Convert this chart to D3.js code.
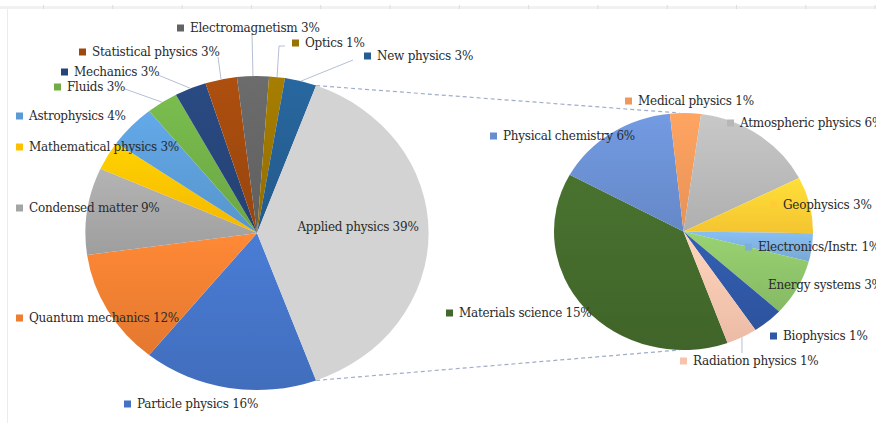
<!DOCTYPE html>
<html>
<head>
<meta charset="utf-8">
<script src="https://cdn.jsdelivr.net/npm/d3@7"></script>
<style>
  body { margin: 0; background: #fff; }
  svg { display: block; }
  .lbl { font-family: "DejaVu Serif", serif; font-size: 12px; fill: #2a2a2a; letter-spacing: -0.25px; }
</style>
</head>
<body>
<svg id="chart" width="876" height="423"></svg>
<script>
// main pie (counts), last one is the "other" slice that gets split out
const mainLabels = ['Particle physics', 'Quantum mechanics', 'Condensed matter', 'Mathematical physics',
  'Astrophysics', 'Fluids', 'Mechanics', 'Statistical physics', 'Electromagnetism', 'Optics',
  'New physics', 'Applied physics'];
const mainValues = [11, 8, 6, 2, 3, 2, 2, 2, 2, 1, 2, 26];
const mainColors = ['#4472C4', '#ED7D31', '#A5A5A5', '#FFC000', '#5B9BD5', '#70AD47',
  '#264478', '#9E480E', '#636363', '#997300', '#255E91', '#D3D3D3'];

// secondary pie = breakdown of Applied physics
const subLabels = ['Materials science', 'Physical chemistry', 'Medical physics', 'Atmospheric physics',
  'Geophysics', 'Electronics/Instr.', 'Energy systems', 'Biophysics', 'Radiation physics'];
const subValues = [10, 4, 1, 4, 2, 1, 2, 1, 1];
const subColors = ['#43682B', '#698ED0', '#F1975A', '#B7B7B7', '#FFCD33', '#7CAFDD',
  '#8CC168', '#2F57A4', '#F6C3AD'];

const total = d3.sum(mainValues);

// label anchors (marker left / baseline middle)
const mainLabelPos = {
  'Particle physics': [124, 404], 'Quantum mechanics': [16, 318], 'Condensed matter': [16, 208],
  'Mathematical physics': [16, 147], 'Astrophysics': [16, 116], 'Fluids': [54, 87],
  'Mechanics': [61, 72], 'Statistical physics': [79, 52], 'Electromagnetism': [177, 28],
  'Optics': [292, 43], 'New physics': [364, 56]
};
const subLabelPos = {
  'Materials science': [446, 313], 'Physical chemistry': [490, 136], 'Medical physics': [625, 101],
  'Atmospheric physics': [727, 123], 'Geophysics': [770, 205], 'Electronics/Instr.': [745, 247],
  'Energy systems': [755, 285], 'Biophysics': [770, 336], 'Radiation physics': [680, 361]
};
// where the leader line leaves the label
const leaderStart = {
  'Electromagnetism': [[252, 33]], 'Optics': [[285, 46], [279, 46]], 'New physics': [[353, 60]],
  'Statistical physics': [[218, 57]], 'Mechanics': [[158, 75]], 'Fluids': [[125, 89]],
  'Radiation physics': [[742, 353]]
};

const svg = d3.select('#chart');

// spreadsheet edge remnants
svg.append('rect').attr('x', 0).attr('y', 6).attr('width', 876).attr('height', 3).attr('fill', '#f1f1f1');
svg.append('g').selectAll('line').data(d3.range(43.5, 876, 69.3)).enter().append('line')
  .attr('x1', d => d).attr('x2', d => d).attr('y1', 5).attr('y2', 9)
  .attr('stroke', '#dcdcdc');
svg.append('line').attr('x1', 7.5).attr('x2', 7.5).attr('y1', 9).attr('y2', 423)
  .attr('stroke', '#ececec');

const sx = 1.093; // pies are a bit wider than tall
const main = { cx: 257, cy: 233, r: 157 };
const sub = { cx: 683.5, cy: 231.5, r: 118.5 };

const deg = Math.PI / 180;
const appliedAngle = mainValues[mainValues.length - 1] / total * 2 * Math.PI;
const mainStart = Math.PI / 2 + appliedAngle / 2;

const mainPie = d3.pie().sort(null).startAngle(mainStart).endAngle(mainStart + 2 * Math.PI);
const subStart = 160.1 * deg;
const subPie = d3.pie().sort(null).startAngle(subStart).endAngle(subStart + 2 * Math.PI);

const mainArcs = mainPie(mainValues);
const subArcs = subPie(subValues);

const defs = svg.append('defs');
function grad(id, c, flat) {
  const g = defs.append('linearGradient').attr('id', id)
    .attr('x1', 0).attr('y1', 0).attr('x2', 0).attr('y2', 1);
  const col = d3.color(c);
  g.append('stop').attr('offset', '0%').attr('stop-color', flat ? c : col.brighter(0.25));
  g.append('stop').attr('offset', '100%').attr('stop-color', flat ? c : col.darker(0.12));
  return `url(#${id})`;
}

function edgePoint(p, a) {
  return [p.cx + Math.sin(a) * p.r * sx, p.cy - Math.cos(a) * p.r];
}

// dashed connectors from applied slice to the secondary pie
const appliedArc = mainArcs[mainArcs.length - 1];
const conn = [
  [edgePoint(main, appliedArc.startAngle), [sub.cx - 4, sub.cy - sub.r]],
  [edgePoint(main, appliedArc.endAngle), [sub.cx - 4, sub.cy + sub.r]]
];
svg.append('g').selectAll('line').data(conn).enter().append('line')
  .attr('x1', d => d[0][0]).attr('y1', d => d[0][1])
  .attr('x2', d => d[1][0]).attr('y2', d => d[1][1])
  .attr('stroke', '#9fadc8').attr('stroke-width', 1.2).attr('stroke-dasharray', '4,3');

const arc = d3.arc().innerRadius(0);

const gMain = svg.append('g').attr('transform', `translate(${main.cx},${main.cy}) scale(${sx},1)`);
gMain.selectAll('path').data(mainArcs).enter().append('path')
  .attr('d', d => arc.outerRadius(main.r)(d))
  .attr('fill', (d, i) => grad('gm' + i, mainColors[i], i === mainArcs.length - 1));

const gSub = svg.append('g').attr('transform', `translate(${sub.cx},${sub.cy}) scale(${sx},1)`);
gSub.selectAll('path').data(subArcs).enter().append('path')
  .attr('d', d => arc.outerRadius(sub.r)(d))
  .attr('fill', (d, i) => grad('gs' + i, subColors[i], false));

// leader lines
function leaders(arcs, labels, p) {
  arcs.forEach((d, i) => {
    const pts = leaderStart[labels[i]];
    if (!pts) return;
    const end = edgePoint(p, (d.startAngle + d.endAngle) / 2);
    svg.append('path')
      .attr('d', d3.line()([...pts, end]))
      .attr('fill', 'none').attr('stroke', '#b4c0d4').attr('stroke-width', 1);
  });
}
leaders(mainArcs, mainLabels, main);
leaders(subArcs, subLabels, sub);

const pct = v => Math.round(v / total * 100) + '%';

function addLabel(name, v, pos, color) {
  const g = svg.append('g').attr('transform', `translate(${pos[0]},${pos[1]})`);
  g.append('rect').attr('x', 0).attr('y', -3.5).attr('width', 7).attr('height', 7).attr('fill', color);
  g.append('text').attr('class', 'lbl').attr('x', 13).attr('dy', '0.35em').text(`${name} ${pct(v)}`);
}
mainLabels.forEach((n, i) => {
  if (mainLabelPos[n]) addLabel(n, mainValues[i], mainLabelPos[n], mainColors[i]);
});
subLabels.forEach((n, i) => addLabel(n, subValues[i], subLabelPos[n], subColors[i]));

// label inside the applied slice
svg.append('text').attr('class', 'lbl')
  .attr('x', 358).attr('y', 227).attr('dy', '0.35em').attr('text-anchor', 'middle')
  .text(`${mainLabels[mainLabels.length - 1]} ${pct(mainValues[mainValues.length - 1])}`);
</script>
</body>
</html>
